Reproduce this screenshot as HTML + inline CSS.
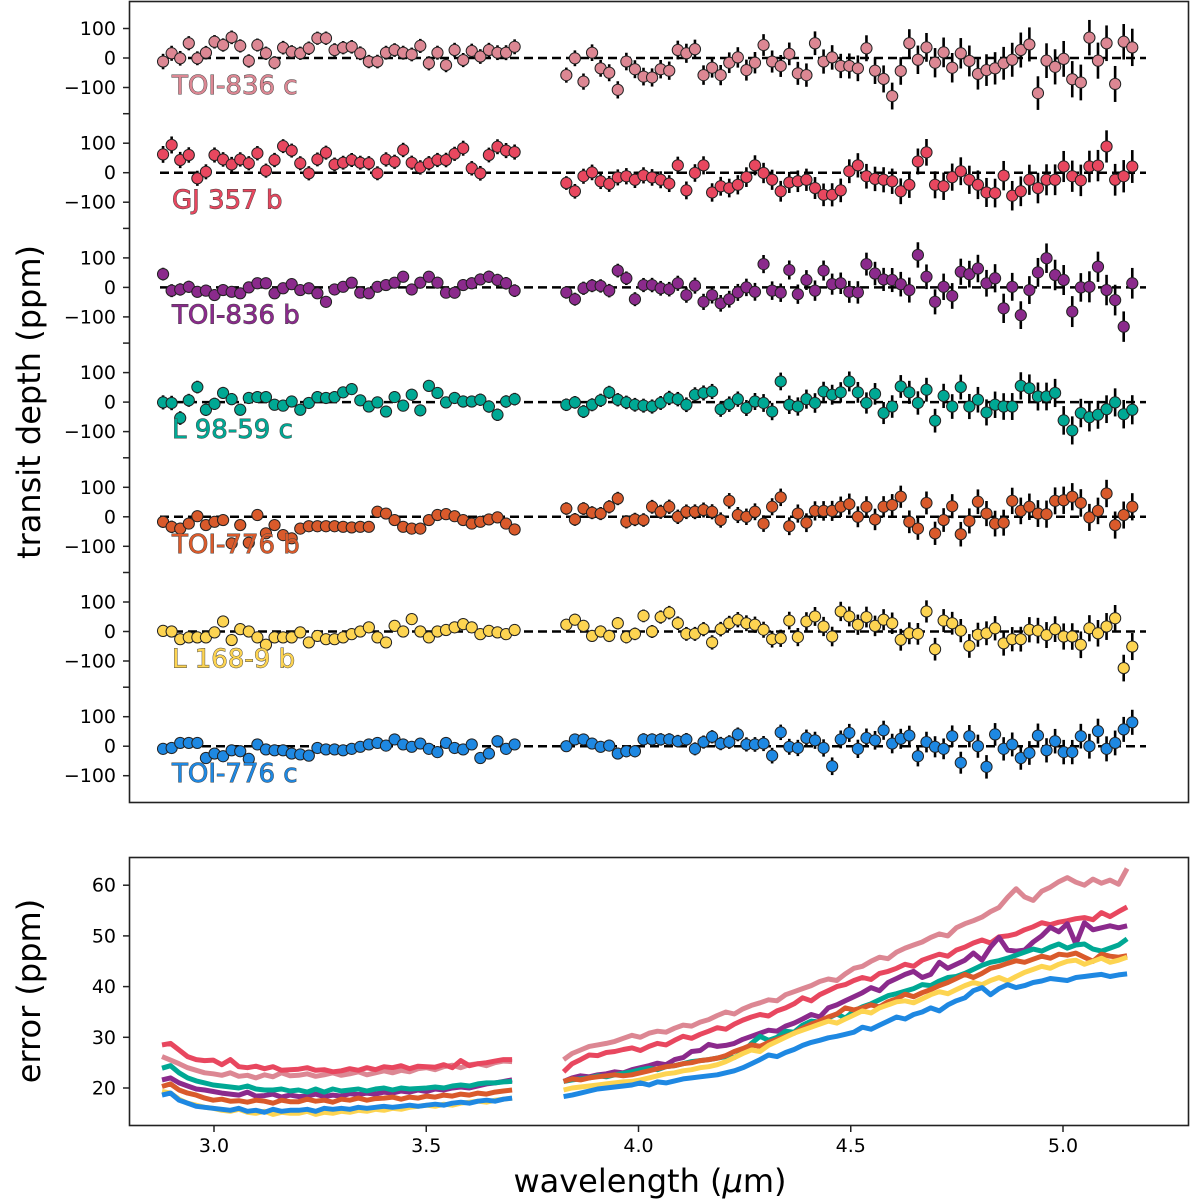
<!DOCTYPE html>
<html><head><meta charset="utf-8"><style>
html,body{margin:0;padding:0;background:#fff}
svg{display:block;font-family:"DejaVu Sans","Liberation Sans",sans-serif}
</style></head><body>
<svg id="chart" width="1193" height="1202" viewBox="0 0 1193 1202" xmlns="http://www.w3.org/2000/svg">
<rect x="0" y="0" width="1193" height="1202" fill="#fff"/>
<g id="topPanel"></g>
<g id="botPanel"></g>
<rect x="129.5" y="1.5" width="1059" height="801" fill="none" stroke="#222" stroke-width="1.6"/>
<rect x="129.5" y="857.5" width="1059" height="268" fill="none" stroke="#222" stroke-width="1.6"/>
<text transform="translate(40,402) rotate(-90)" text-anchor="middle" font-size="32">transit depth (ppm)</text>
<text transform="translate(40,991) rotate(-90)" text-anchor="middle" font-size="32">error (ppm)</text>
<text x="650" y="1192" text-anchor="middle" font-size="32">wavelength (<tspan font-style="italic">μ</tspan>m)</text>
</svg>
<script>
const names = ["TOI-836 c","GJ 357 b","TOI-836 b","L 98-59 c","TOI-776 b","L 168-9 b","TOI-776 c"];
const colors = ["#dc8793","#e8475f","#8b2a8c","#00a894","#d95a2b","#fdd451","#1e88e2"];
const xTicks = [3.0,3.5,4.0,4.5,5.0];
const xTickLabels = ["3.0","3.5","4.0","4.5","5.0"];
const depthTicks = [100,0,-100];
const depthTickLabels = ["100","0","\u2212100"];
const errTicks = [20,30,40,50,60];
const errTickLabels = ["20","30","40","50","60"];
const wl1 = []; for (let i=0;i<42;i++) wl1.push(2.88+i*0.0202);
const wl2 = []; for (let i=0;i<67;i++) wl2.push(3.83+i*0.0202);

const depthA = [
[-12,16,-1,50,-1,18,55,44,70,41,-10,44,16,-16,35,21,16,33,67,67,27,35,38,16,-12,-12,18,27,18,12,41,-18,18,-24,27,-7,24,5,27,18,18,38],
[62,94,43,60,-19,3,60,45,28,45,32,66,7,43,90,75,32,-2,45,68,28,34,43,34,32,-2,45,37,77,34,18,32,43,43,64,83,15,-2,60,88,75,70],
[45,-11,-7,2,-15,-11,-26,-9,-15,-20,0,14,14,-20,-3,11,-9,-3,-20,-49,-7,2,16,-18,-20,2,8,16,36,-7,16,36,16,-18,-18,8,14,27,36,25,14,-11],
[-1,-3,-54,6,51,-26,-6,31,10,-26,14,17,17,-9,-12,2,-26,-3,17,14,17,33,44,6,-15,-1,-32,17,-12,25,-28,55,31,-1,14,2,2,8,-15,-43,2,10],
[-17,-34,-40,-23,2,-28,-17,-11,-90,-28,-88,6,-56,-28,-62,-73,-40,-32,-32,-32,-32,-34,-36,-34,-34,17,11,-11,-34,-40,-40,-11,6,9,2,-11,-23,-17,-9,-2,-23,-43],
[2,0,-26,-20,-20,-20,-3,34,-29,8,0,-20,-45,-20,-20,-20,-3,-37,-15,-26,-26,-20,-9,0,14,-20,-37,19,0,42,0,-20,0,5,14,25,14,-9,2,-3,-9,5],
[-9,-6,11,11,11,-40,-25,-34,-14,-17,-43,6,-11,-14,-14,-25,-28,-32,-6,-11,-11,-14,-9,-2,6,11,2,23,6,-2,9,-9,-20,11,-6,-11,6,-40,-25,17,-9,6]
];
const depthB = [
[-58,-1,-80,18,-35,-50,-108,-12,-38,-63,-66,-38,-43,27,16,30,-58,-33,-58,-16,2,-41,-16,44,-12,-27,14,-52,-58,50,-12,2,-27,-27,-35,33,-43,-71,-129,-44,50,-6,36,-16,19,-33,16,-10,-54,-41,-35,-18,-6,27,46,-119,-9,-30,-3,-72,-83,69,-9,50,-88,55,36],
[-35,-63,-12,1,-29,-38,-16,-12,-24,-9,-16,-24,-37,25,-60,-1,25,-67,-46,-52,-41,-15,25,-1,-24,-63,-33,-29,-24,-52,-75,-75,-60,5,25,-12,-21,-24,-29,-63,-41,38,69,-41,-46,-15,5,-24,-41,-67,-69,-10,-78,-63,-24,-52,-24,-24,21,-12,-26,21,24,89,-24,-12,21],
[-17,-40,-3,6,5,-11,57,31,-40,8,8,-3,-6,14,-26,6,-49,-26,-54,-40,-17,0,-15,79,-11,-18,59,-23,25,-11,57,11,14,-15,-17,79,47,27,25,11,-9,110,36,-49,2,-29,53,45,64,14,31,-71,2,-94,-9,51,99,42,25,-82,0,2,70,-9,-43,-133,14],
[-9,-1,-32,-9,6,33,8,-1,-9,-12,-15,-3,14,10,-9,25,31,36,-24,-7,10,-20,2,-3,-32,70,-9,-15,10,-3,36,25,33,70,33,-3,28,-37,-15,53,33,-3,42,-63,21,-15,51,-15,8,-35,-9,-15,-15,55,47,19,19,31,-62,-96,-37,-51,-43,-24,-1,-41,-26],
[28,-9,28,14,11,34,62,-17,-9,-11,34,17,34,0,17,17,23,17,-11,54,6,0,17,-23,34,66,-32,11,-20,20,20,20,34,43,0,34,-9,34,40,68,-17,-40,47,-56,-11,36,-59,-14,51,11,-23,-20,54,20,34,11,9,54,56,68,47,-2,20,79,-28,6,34],
[23,40,19,-15,0,-15,28,-19,-8,53,0,49,64,28,-8,-8,8,-37,8,28,40,28,23,6,-26,-23,37,-19,34,51,17,-17,68,51,23,49,19,40,28,-28,-6,-8,68,-60,37,28,3,-49,-11,-6,11,-40,-26,-26,6,3,-12,8,-17,-17,-45,11,-6,17,45,-124,-51],
[0,23,23,9,-2,2,-25,-17,-17,23,23,23,23,17,23,-9,14,32,9,14,40,6,6,9,-32,47,-2,-6,28,20,-6,-68,23,45,-9,28,20,54,9,25,36,-34,14,-2,-9,34,-56,34,0,-70,40,-9,6,-40,-23,36,-14,17,-20,-20,34,0,51,-9,11,57,81]
];
const errA = [
[26.2,25.5,24.8,24.0,23.5,23.0,22.8,22.5,23.0,22.3,22.5,22.0,22.6,22.2,23.0,22.4,22.5,22.8,22.3,22.6,23.0,22.5,22.8,23.2,22.6,23.0,23.4,23.0,23.5,23.2,23.8,24.0,23.6,24.2,24.5,24.0,24.6,24.8,24.4,25.0,25.3,25.2],
[28.5,28.8,27.5,26.2,25.6,25.4,25.5,24.6,25.6,24.2,24.0,24.3,23.8,24.2,23.5,23.6,23.7,24.0,23.5,23.6,23.2,23.4,23.8,23.5,24.0,23.6,24.2,24.0,24.4,23.8,24.3,24.2,24.1,24.6,24.0,25.4,24.4,24.8,25.0,25.3,25.6,25.6],
[21.6,22.0,21.0,20.4,19.8,19.6,19.3,19.0,18.8,18.6,19.2,18.4,18.5,18.8,18.2,18.6,18.3,18.4,18.8,18.3,18.6,18.4,18.9,18.7,19.0,18.8,19.2,19.0,19.4,19.2,19.6,19.3,19.8,19.6,20.0,20.2,20.0,20.4,20.8,21.0,21.3,21.6],
[23.9,24.4,23.0,22.0,21.4,21.0,20.6,20.4,20.2,20.0,20.4,19.8,19.6,19.6,19.8,19.4,19.6,19.2,19.8,19.2,19.8,19.4,19.6,19.8,19.4,19.8,20.0,19.6,20.0,19.8,19.9,20.0,20.2,20.0,20.4,20.6,20.4,20.8,21.0,21.0,21.2,21.3],
[20.3,20.8,19.6,19.0,18.6,18.0,17.6,17.8,17.4,17.5,17.2,17.6,17.4,17.0,17.6,17.3,17.3,17.8,17.4,17.6,17.2,17.8,17.6,18.0,17.6,17.9,18.0,18.2,17.8,18.2,18.0,18.4,18.2,18.6,18.4,18.8,18.6,19.0,18.8,19.2,19.4,19.6],
[19.3,19.0,17.8,17.0,16.6,16.2,16.0,15.6,15.4,15.8,15.2,15.0,15.4,14.8,15.2,15.0,15.0,15.4,14.8,15.2,15.0,15.4,15.2,15.6,15.4,15.8,15.6,16.0,15.8,16.2,16.4,16.6,16.4,16.8,16.6,17.0,17.2,17.4,17.2,17.6,17.8,18.0],
[18.6,19.0,17.6,17.0,16.4,16.2,16.0,15.8,15.6,16.0,15.4,15.6,15.2,15.8,15.4,15.6,15.6,15.8,15.4,16.0,15.8,16.0,15.8,16.2,16.0,16.2,16.4,16.2,16.4,16.6,16.4,16.6,16.8,16.6,17.0,17.2,17.0,17.4,17.6,17.4,17.8,18.0]
];
const errB = [
[25.6,26.8,27.5,28.2,28.5,28.8,29.2,29.8,30.4,30.0,30.8,31.2,31.0,31.8,32.4,32.2,33.0,33.5,34.3,35.0,34.6,35.6,36.3,36.8,37.4,37.2,38.4,39.0,39.6,40.2,41.0,41.5,41.2,42.5,43.6,44.0,45.0,45.8,45.5,46.8,47.6,48.2,48.8,49.7,50.4,50.0,51.6,52.4,53.0,53.7,54.8,55.6,57.6,59.3,57.7,57.0,58.8,59.6,60.7,61.5,60.6,60.0,61.2,60.4,61.0,60.2,63.3],
[23.2,24.8,25.6,26.5,26.4,27.0,27.2,27.6,27.9,27.4,28.2,28.8,28.5,29.4,30.2,29.8,30.6,31.2,31.9,31.6,32.6,33.4,34.0,34.5,34.2,35.2,35.8,36.6,37.8,37.2,38.4,39.2,40.0,40.4,41.2,41.8,41.4,42.6,43.0,43.6,44.4,44.0,45.2,45.8,46.4,46.0,47.2,47.8,48.6,49.2,48.6,49.8,50.0,50.4,51.2,51.8,52.6,52.2,52.7,53.0,53.4,53.6,53.2,54.6,53.8,54.8,55.7],
[21.3,22.0,22.4,22.2,22.6,22.8,23.2,23.0,23.6,24.0,24.4,24.9,24.6,25.6,26.0,27.2,27.4,28.6,28.2,28.4,28.8,29.6,30.2,30.8,31.4,31.2,32.2,32.8,33.6,34.5,34.0,35.8,36.4,37.2,38.0,38.8,39.8,39.2,40.8,41.6,42.4,43.0,41.8,42.4,44.8,43.6,44.4,45.2,46.6,45.2,47.8,49.7,47.2,47.0,47.2,48.8,50.0,51.7,50.8,52.4,48.4,52.6,51.2,51.6,52.0,51.6,52.0],
[21.3,21.6,21.8,22.0,22.4,22.2,22.6,22.9,23.2,23.6,23.9,23.6,24.2,24.4,24.8,25.2,25.4,25.6,25.9,26.2,26.0,27.0,28.8,30.2,29.4,30.0,31.2,31.0,32.4,33.2,33.0,33.8,34.6,33.8,35.2,36.0,36.6,37.4,38.2,38.6,39.1,39.6,40.4,40.2,41.1,41.8,42.0,42.6,43.4,44.2,44.8,45.1,45.6,46.2,46.8,47.4,47.0,47.8,48.4,47.6,48.2,48.4,47.4,47.0,47.6,48.2,49.4],
[21.3,21.8,21.6,22.0,22.2,22.4,22.6,22.4,22.6,23.0,23.4,23.8,24.2,24.4,24.8,25.0,25.4,25.6,25.9,26.4,27.2,27.8,28.5,28.2,29.0,29.6,30.2,30.8,31.8,32.6,33.2,34.0,34.6,35.8,35.4,35.8,36.4,36.0,37.0,37.6,38.5,38.0,38.8,39.4,40.2,40.8,41.6,42.4,41.8,42.6,43.6,44.0,44.6,45.1,44.8,45.4,46.0,45.6,46.4,46.2,46.6,45.8,45.0,46.4,46.0,45.8,46.1],
[19.6,20.0,20.2,20.4,20.6,20.8,21.0,21.2,21.3,21.6,22.0,22.4,22.8,23.0,23.4,23.6,24.0,24.2,24.6,25.2,26.0,26.8,27.5,27.2,28.4,29.2,30.0,30.8,31.4,32.0,32.6,33.2,32.8,33.6,34.4,35.2,34.8,35.8,36.4,37.0,37.2,36.8,37.6,38.4,39.0,38.6,39.4,40.2,40.8,40.4,41.2,41.8,41.1,42.0,42.8,43.4,44.0,43.6,44.4,45.0,45.2,44.4,45.0,45.6,44.8,45.2,45.8],
[18.3,18.6,19.0,19.4,19.8,20.0,20.2,20.4,20.6,21.0,20.6,21.2,21.0,21.4,21.8,22.0,22.2,22.4,22.6,23.0,23.4,24.0,24.8,25.6,26.5,26.2,27.0,27.6,28.4,29.0,29.4,29.9,30.2,30.6,31.0,32.0,31.6,32.4,33.2,34.0,33.6,34.5,35.0,35.8,35.2,36.4,37.2,37.8,39.2,39.8,38.4,39.6,40.4,39.8,40.2,40.8,41.1,41.6,41.4,41.2,41.8,42.0,42.2,42.4,42.0,42.3,42.5]
];

const NS = "http://www.w3.org/2000/svg";
function mk(tag, attrs, parent){ const e=document.createElementNS(NS,tag); for(const k in attrs) e.setAttribute(k,attrs[k]); parent.appendChild(e); return e; }
function xScale(w){ return 214 + (w-3.0)*424.5; }
function xLine(w){ return 162 + (w-2.88)*422.7; }
const rowZero0 = 58, rowGap = 114.7, pxPerPpm = 0.295;
function yTop(row, v){ return rowZero0 + row*rowGap - v*pxPerPpm; }
function yBot(e){ return 1088 - (e-20)*5.07; }

const topG = document.getElementById('topPanel');
const botG = document.getElementById('botPanel');

for (let r=0;r<7;r++){
  depthTicks.forEach((t,j)=>{
    const y=yTop(r,t);
    const tk=mk('line',{x1:123,x2:130,y1:y,y2:y,stroke:'#222','stroke-width':1.5},topG);
    
    
    const tl=mk('text',{x:116,y:y+6.5,'text-anchor':'end','font-size':19},topG);
    tl.textContent=depthTickLabels[j];
    
    
  });
  const y2=yTop(r,200);
  const tk2=mk('line',{x1:123,x2:130,y1:y2,y2:y2,stroke:'#222','stroke-width':1.5},topG);
  
  
}

for (let r=0;r<7;r++){
  const g=mk('g',{},topG);
  
  
  const z=yTop(r,0);
  const dl=mk('line',{x1:160,x2:1146,y1:z,y2:z,stroke:'#000','stroke-width':2.5,'stroke-dasharray':'9,5'},g);
  
  
  const pts=[];
  wl1.forEach((w,i)=>pts.push([w,depthA[r][i],errA[r][i]]));
  wl2.forEach((w,i)=>pts.push([w,depthB[r][i],errB[r][i]]));
  pts.forEach(p=>{
    const x=xScale(p[0]), y=yTop(r,p[1]), h=p[2]*pxPerPpm;
    const eb=mk('line',{x1:x,x2:x,y1:y-h,y2:y+h,stroke:'#000','stroke-width':2.6},g);
    
    
  });
  pts.forEach(p=>{
    const c=mk('circle',{cx:xScale(p[0]),cy:yTop(r,p[1]),r:5.6,fill:colors[r],stroke:'#222','stroke-width':1},g);
    
    
  });
  const lab=mk('text',{x:172,y:z+36,'font-size':26,fill:colors[r],stroke:'#444','stroke-width':0.9,'paint-order':'stroke'},g);
  lab.textContent=names[r];
  
  
}

errTicks.forEach((t,j)=>{
  const y=yBot(t);
  const tk=mk('line',{x1:123,x2:130,y1:y,y2:y,stroke:'#222','stroke-width':1.5},botG);
  
  
  const tl=mk('text',{x:116,y:y+6.5,'text-anchor':'end','font-size':19},botG);
  tl.textContent=errTickLabels[j];
  
  
});
xTicks.forEach((t,j)=>{
  const x=xScale(t);
  const tk=mk('line',{x1:x,x2:x,y1:1125,y2:1132,stroke:'#222','stroke-width':1.5},botG);
  
  
  const tl=mk('text',{x:x,y:1152,'text-anchor':'middle','font-size':19},botG);
  tl.textContent=xTickLabels[j];
  
  
});
for (let r=0;r<7;r++){
  const d1=wl1.map((w,i)=>(i?'L':'M')+xLine(w).toFixed(1)+','+yBot(errA[r][i]).toFixed(1)).join('');
  const d2=wl2.map((w,i)=>(i?'L':'M')+xLine(w).toFixed(1)+','+yBot(errB[r][i]).toFixed(1)).join('');
  const p=mk('path',{d:d1+d2,fill:'none',stroke:colors[r],'stroke-width':5,'stroke-linejoin':'round'},botG);
  
  
}
</script>
</body></html>
